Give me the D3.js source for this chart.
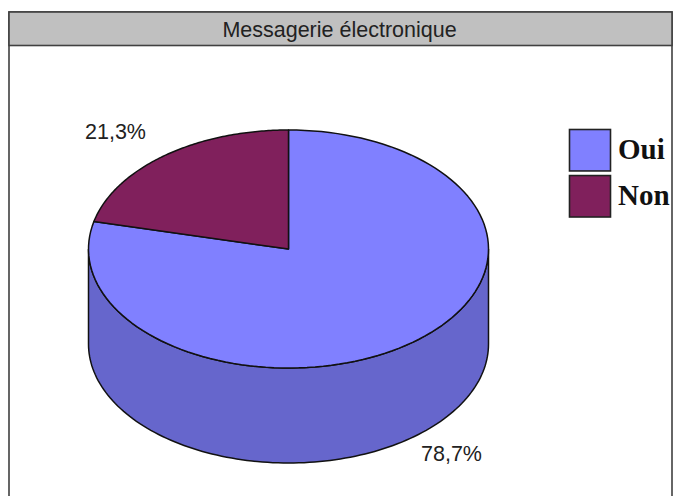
<!DOCTYPE html>
<html><head><meta charset="utf-8">
<script src="https://cdn.jsdelivr.net/npm/d3@7"></script>
<style>html,body{margin:0;padding:0;background:#fff}svg{display:block}</style>
</head><body><div id="c"></div>
<script>
const title = "Messagerie électronique";
const categories = ["Oui", "Non"];
const values = [78.7, 21.3];
const labels = ["78,7%", "21,3%"];
const topColors = ["#8080ff", "#80205c"];
const sideColors = ["#6666cc"];

const W = 674, H = 496;
const svg = d3.select("#c").append("svg").attr("width", W).attr("height", H);
const cx = 288.5, cy = 249, rx = 200, ry = 119, depth = 95;

svg.append("clipPath").attr("id", "fr").append("rect").attr("x", 9).attr("y", 12).attr("width", 664).attr("height", 500);

// frame
svg.append("rect").attr("x", 9).attr("y", 12).attr("width", 663).attr("height", 500)
  .attr("fill", "#fff").attr("stroke", "#404040").attr("stroke-width", 1.6);
svg.append("rect").attr("x", 9).attr("y", 12).attr("width", 663).attr("height", 33.5)
  .attr("fill", "#c0c0c0").attr("stroke", "#404040").attr("stroke-width", 1.6);
svg.append("text").attr("x", 339.5).attr("y", 37).attr("text-anchor", "middle")
  .attr("font-family", "Liberation Sans").attr("font-size", 21.5).attr("fill", "#222")
  .text(title);

const pie = d3.pie().sort(null).value(d => d).startAngle(0).endAngle(2 * Math.PI);
const arcs = pie(values);
const px = a => cx + rx * Math.sin(a);
const py = (a, dz = 0) => cy - ry * Math.cos(a) + dz;
const line = d3.line().x(d => d[0]).y(d => d[1]);
const samples = (a0, a1, dz = 0) => d3.range(0, 121).map(i => {
  const a = d3.interpolateNumber(a0, a1)(i / 120);
  return [px(a), py(a, dz)];
});

// side wall (front half)
const front = samples(Math.PI / 2, 3 * Math.PI / 2, depth);
const back = samples(3 * Math.PI / 2, Math.PI / 2, 0);
svg.append("path").attr("d", line(front.concat(back)) + "Z")
  .attr("fill", sideColors[0]).attr("stroke", "#111").attr("stroke-width", 1.5);

// top face
arcs.forEach((d, i) => {
  const pts = [[cx, cy]].concat(samples(d.startAngle, d.endAngle));
  svg.append("path").attr("d", line(pts) + "Z")
    .attr("fill", topColors[i]).attr("stroke", "#111").attr("stroke-width", 1.5)
    .attr("stroke-linejoin", "round");
});

// value labels
const labelPos = [[421, 461], [85, 139]];
labels.forEach((t, i) => {
  svg.append("text").attr("x", labelPos[i][0]).attr("y", labelPos[i][1])
    .attr("font-family", "Liberation Sans").attr("font-size", 21.5).attr("fill", "#222").text(t);
});

// legend
const yLeg = d3.scaleBand().domain(categories).range([129.5, 217]).paddingInner(0.1);
categories.forEach((c, i) => {
  svg.append("rect").attr("x", 569.5).attr("y", yLeg(c)).attr("width", 41).attr("height", yLeg.bandwidth())
    .attr("fill", topColors[i]).attr("stroke", "#222").attr("stroke-width", 1.6);
  svg.append("text").attr("x", 618).attr("y", yLeg(c) + 29).attr("clip-path", "url(#fr)")
    .attr("font-family", "Liberation Serif").attr("font-weight", "bold").attr("font-size", 29)
    .attr("fill", "#111").text(c);
});
</script></body></html>
